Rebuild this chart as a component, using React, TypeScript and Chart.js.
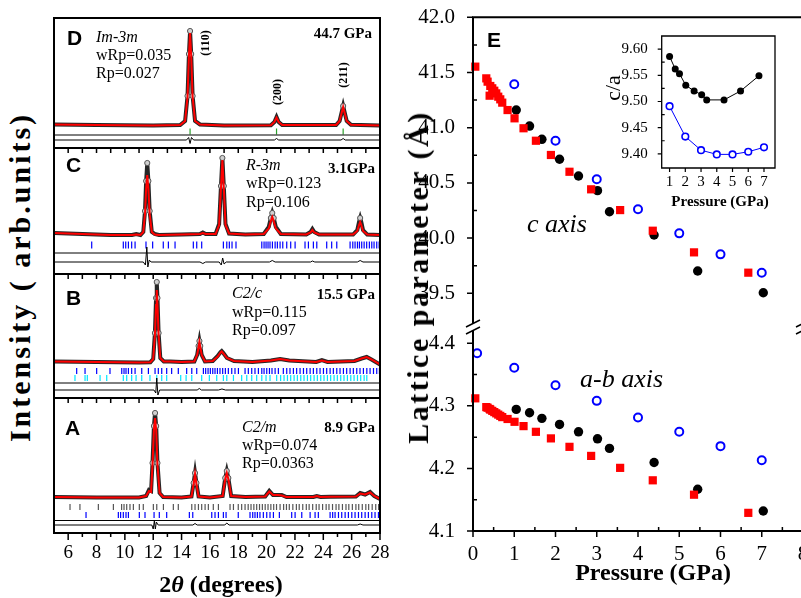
import React, { useEffect, useRef } from 'react';
import { Chart, registerables } from 'chart.js';

Chart.register(...registerables);

const SERIF = '"Liberation Serif", "Times New Roman", serif';
const SANS = '"Liberation Sans", Arial, sans-serif';

// ---------------- XRD patterns (2θ in degrees, intensity in arbitrary units) ----------------
const dTheta = [5, 8, 12, 13.9, 14.25, 14.42, 14.52, 14.6, 14.68, 14.78, 14.95, 15.3, 17, 20.3, 20.55, 20.7, 20.85, 21.1, 24.9, 25.15, 25.3, 25.4, 25.5, 25.65, 25.95, 28];
const dObs = [1.5, 1, 0.5, 1, 5, 30, 72, 95, 72, 30, 5, 1.5, 0.5, 0.8, 4, 9, 4, 1, 1, 5, 14, 20, 14, 5, 1.2, 0.5];
const dCalc = [1.5, 1, 0.5, 1, 5, 29, 70, 93, 70, 29, 5, 1.5, 0.5, 0.8, 4, 8.5, 4, 1, 1, 5, 13.5, 19, 13.5, 5, 1.2, 0.5];
const dResX = [5, 14.35, 14.5, 14.6, 14.7, 14.85, 20.55, 20.7, 20.85, 25.25, 25.4, 25.55, 28];
const dResY = [0, 0, 2.5, -3.5, 2.5, 0, 0, 1.5, 0, 0, 1.5, 0, 0];
const dTicksGreen = [14.6, 20.7, 25.4];

const cTheta = [5, 7, 9, 10.5, 10.8, 11.1, 11.3, 11.42, 11.5, 11.58, 11.66, 11.75, 11.9, 12.1, 12.4, 14, 15.3, 15.5, 15.7, 16.4, 16.65, 16.78, 16.88, 16.98, 17.1, 17.35, 18.5, 19.8, 20.15, 20.3, 20.4, 20.5, 20.65, 21.0, 22.8, 23.1, 23.23, 23.36, 23.7, 26.1, 26.4, 26.52, 26.6, 26.68, 26.8, 27.1, 28];
const cObs = [3, 2, 1, 1, 2, 1, 4, 25, 55, 73, 55, 25, 4, 2, 1, 1.5, 2, 3.5, 2, 2, 12, 50, 78, 50, 12, 2.5, 1.5, 2, 9, 18, 23, 18, 9, 2, 1.5, 4, 7, 4, 1.5, 1.5, 6, 14, 18, 14, 6, 1.5, 1];
const cCalc = [3, 2, 1, 1, 1.5, 1, 4, 22, 47, 61, 47, 22, 4, 1.5, 1, 1.5, 2, 3, 2, 2, 11, 48, 76, 48, 11, 2.5, 1.5, 2, 7.5, 15, 19, 15, 7.5, 2, 1.5, 3.5, 6, 3.5, 1.5, 1.5, 5, 11, 14, 11, 5, 1.5, 1];
const cResX = [5, 11.3, 11.45, 11.55, 11.62, 11.72, 11.85, 15.3, 15.5, 15.7, 16.65, 16.8, 16.9, 17.0, 17.15, 20.2, 20.4, 20.6, 23.1, 23.23, 23.4, 26.4, 26.6, 26.8, 28];
const cResY = [0, 0, -3, 15, -5, 2, 0, 0, -1.5, 0, 0, -3, 4, -2, 0, 0, 1.5, 0, 0, 1, 0, 0, 1.5, 0, 0];
const cTicksBlue = [7.66, 9.89, 10.06, 10.25, 10.48, 10.72, 11.49, 11.96, 12.71, 13.07, 13.54, 14.83, 15.07, 15.42, 16.95, 17.19, 17.37, 17.56, 17.84, 19.66, 19.82, 19.96, 20.10, 20.24, 20.41, 20.60, 20.76, 20.95, 21.14, 21.42, 21.70, 22.01, 22.71, 22.95, 23.30, 23.54, 24.24, 24.59, 24.95, 25.89, 26.08, 26.24, 26.41, 26.55, 26.71, 26.88, 27.06, 27.25, 27.42, 27.58, 27.77, 27.94];

const bTheta = [5, 8, 11, 11.8, 12.0, 12.12, 12.2, 12.25, 12.3, 12.38, 12.5, 12.75, 13.2, 14, 14.9, 15.1, 15.2, 15.26, 15.32, 15.42, 15.65, 16.2, 16.55, 16.75, 16.83, 16.95, 17.2, 17.7, 19, 20.3, 20.95, 21.6, 23.5, 23.9, 24.3, 26.2, 26.7, 27.06, 27.4, 28];
const bObs = [1.5, 1, 0.5, 0.8, 4, 30, 65, 81, 65, 30, 5, 1.5, 1.5, 1, 1.5, 8, 17, 22, 17, 8, 1.5, 2, 7, 11, 12, 10, 5, 2, 1, 2.5, 4, 2.5, 1, 3, 1, 2, 4.5, 6, 3.5, -1.5];
const bCalc = [1.5, 1, 0.5, 0.8, 4, 28, 58, 73, 58, 28, 5, 1.5, 1.5, 1, 1.5, 8, 16, 21, 16, 8, 1.5, 2, 6.5, 10.5, 11.5, 9.5, 5, 2, 1, 2.5, 4, 2.5, 1, 2.5, 1, 2, 4.5, 6, 3.5, -1.5];
const bResX = [5, 12.05, 12.18, 12.25, 12.33, 12.45, 15.1, 15.25, 15.4, 16.6, 16.85, 17.1, 28];
const bResY = [0, 0, -3, 12, -5, 0, 0, 1.5, 0, 0, 1, 0, 0];
const bTicksBlue = [6.6, 7.19, 8.01, 8.95, 9.78, 9.94, 10.08, 10.25, 10.48, 10.72, 11.19, 11.66, 12.13, 12.36, 12.6, 12.95, 13.3, 13.77, 14.36, 14.72, 15.07, 15.54, 15.7, 15.87, 16.03, 16.2, 16.36, 16.53, 16.71, 16.9, 17.09, 17.3, 17.54, 17.77, 18.01, 18.48, 18.71, 18.95, 19.18, 19.42, 19.66, 19.82, 20.01, 20.2, 20.38, 20.6, 20.83, 21.18, 21.42, 21.65, 21.89, 22.12, 22.36, 22.6, 22.83, 23.07, 23.3, 23.54, 23.77, 24.01, 24.24, 24.48, 24.71, 24.95, 25.18, 25.42, 25.65, 25.89, 26.12, 26.36, 26.59, 26.83, 27.07, 27.3, 27.54, 27.77, 27.96];
const bTicksCyan = [6.48, 7.19, 7.35, 8.25, 8.72, 9.89, 10.13, 10.48, 10.79, 11.19, 11.77, 12.25, 12.6, 12.95, 13.94, 14.32, 14.72, 15.42, 15.96, 16.48, 16.95, 17.19, 17.66, 18.24, 18.6, 18.95, 19.3, 19.66, 19.96, 20.24, 20.71, 20.99, 21.23, 21.47, 21.7, 21.94, 22.17, 22.41, 22.64, 22.88, 23.11, 23.35, 23.58, 23.82, 24.05, 24.29, 24.52, 24.76, 24.99, 25.23, 25.46, 25.7, 25.94, 26.17, 26.41, 26.64, 26.88, 27.07];

const aTheta = [5, 8, 11, 11.5, 11.7, 11.85, 11.95, 12.05, 12.13, 12.21, 12.3, 12.45, 12.7, 14.0, 14.7, 14.85, 14.95, 15.05, 15.2, 16.0, 16.9, 17.08, 17.19, 17.3, 17.5, 18.5, 19.9, 20.19, 20.45, 20.8, 21.07, 21.4, 23.3, 23.54, 23.8, 24.5, 26.3, 26.6, 26.95, 27.3, 27.6, 28];
const aObs = [1, 0.5, 0.5, 2, 8, 7, 35, 72, 85, 72, 35, 5, 1, 0.5, 1.5, 15, 25, 15, 1.5, 0.5, 2, 20, 27, 20, 2, 1, 1.5, 7, 3, 3, 3, 1, 1, 2, 1, 1.2, 1.5, 5, 3.5, 6, 2, -1];
const aCalc = [1, 0.5, 0.5, 2, 7, 6, 33, 68, 80, 68, 33, 5, 1, 0.5, 1.5, 14, 24, 14, 1.5, 0.5, 2, 19, 25, 19, 2, 1, 1.5, 6.5, 3, 3, 2.5, 1, 1, 2, 1, 1.2, 1.5, 4.5, 3.5, 5.5, 2, -1];
const aResX = [5, 11.9, 12.0, 12.08, 12.15, 12.22, 12.35, 14.8, 14.95, 15.1, 17.05, 17.19, 17.35, 26.4, 26.6, 26.8, 28];
const aResY = [0, 0, -4, 4, -4, 3, 0, 0, 1.5, 0, 0, 2, 0, 0, 1, 0, 0];
const aTicksGray = [6.13, 6.83, 8.13, 9.19, 9.77, 9.94, 10.13, 10.36, 10.6, 11.02, 11.3, 12.01, 12.25, 12.72, 13.42, 13.77, 14.72, 14.95, 15.19, 15.42, 15.66, 15.89, 16.24, 16.6, 17.42, 17.66, 18.0, 18.24, 18.48, 18.7, 18.9, 19.1, 19.3, 19.5, 19.7, 19.9, 20.1, 20.3, 20.5, 20.7, 20.95, 21.2, 21.4, 21.6, 21.85, 22.1, 22.3, 22.55, 22.8, 23.0, 23.25, 23.5, 23.7, 23.95, 24.2, 24.4, 24.65, 24.9, 25.1, 25.35, 25.6, 25.8, 26.05, 26.3, 26.5, 26.75, 27.0, 27.2, 27.45, 27.7, 27.9];
const aTicksBlue = [7.26, 9.54, 9.7, 9.89, 10.08, 10.25, 11.02, 11.42, 12.06, 12.43, 12.95, 14.55, 14.79, 16.13, 16.36, 16.6, 16.95, 17.14, 18.0, 18.83, 19.02, 19.18, 19.35, 19.53, 19.77, 20.01, 20.24, 20.48, 20.9, 21.77, 22.01, 22.48, 23.07, 23.42, 23.65, 24.48, 24.66, 24.83, 25.07, 25.3, 25.54, 25.77, 26.01, 26.24, 26.48, 26.71, 26.95, 27.18, 27.42, 27.65, 27.89];

const xrdLabelTicks = [6, 8, 10, 12, 14, 16, 18, 20, 22, 24, 26, 28];
const xrdMinorTicks = [7, 9, 11, 13, 15, 17, 19, 21, 23, 25, 27];

// ---------------- Lattice parameters vs pressure ----------------
const redP = [0.056, 0.322, 0.354, 0.403, 0.419, 0.467, 0.516, 0.564, 0.612, 0.661, 0.709, 0.838, 1.007, 1.225, 1.525, 1.889, 2.339, 2.864, 3.567, 4.358, 5.358, 6.674];
const redC = [41.553, 41.447, 41.417, 41.290, 41.378, 41.357, 41.335, 41.311, 41.281, 41.257, 41.227, 41.160, 41.085, 40.995, 40.882, 40.753, 40.601, 40.442, 40.254, 40.067, 39.871, 39.687];
const redA = [4.312, 4.298, 4.297, 4.295, 4.294, 4.292, 4.290, 4.288, 4.286, 4.284, 4.282, 4.279, 4.2745, 4.2676, 4.2585, 4.248, 4.2345, 4.220, 4.2009, 4.181, 4.158, 4.129];

const blackP = [1.048, 1.371, 1.670, 2.098, 2.558, 3.018, 3.309, 4.39, 5.447, 7.037];
const blackC = [41.160, 41.015, 40.895, 40.714, 40.563, 40.430, 40.239, 40.028, 39.702, 39.505];
const blackA = [4.2943, 4.289, 4.280, 4.2703, 4.2585, 4.2473, 4.232, 4.2095, 4.1668, 4.132];

const blueCP = [1, 2, 3, 4, 5, 6, 7];
const blueC = [41.393, 40.882, 40.533, 40.261, 40.043, 39.853, 39.687];
const blueAP = [0.1, 1, 2, 3, 4, 5, 6, 7];
const blueA = [4.384, 4.361, 4.333, 4.308, 4.2815, 4.2585, 4.2356, 4.2132];

const cAxisTicks = [39.5, 40.0, 40.5, 41.0, 41.5, 42.0];
const cAxisMinor = [39.75, 40.25, 40.75, 41.25, 41.75];
const aAxisTicks = [4.1, 4.2, 4.3, 4.4];
const aAxisMinor = [4.15, 4.25, 4.35];
const pTicks = [0, 1, 2, 3, 4, 5, 6, 7, 8];
const pMinor = [0.5, 1.5, 2.5, 3.5, 4.5, 5.5, 6.5, 7.5];

// inset: c/a ratio
const insetBlackP = [1.0, 1.36, 1.63, 2.03, 2.56, 3.04, 3.36, 4.46, 5.51, 6.68];
const insetBlackR = [9.586, 9.562, 9.553, 9.531, 9.520, 9.513, 9.503, 9.503, 9.520, 9.549];
const insetBlueP = [1, 2, 3, 4, 5, 6, 7];
const insetBlueR = [9.491, 9.433, 9.407, 9.399, 9.399, 9.404, 9.4125];
const insetPTicks = [1, 2, 3, 4, 5, 6, 7];
const insetRTicks = [9.40, 9.45, 9.50, 9.55, 9.60];
const insetRMinor = [9.425, 9.475, 9.525, 9.575];

// ---------------- helpers ----------------
const zip = (xs: number[], ys: number[]) => xs.map((x, i) => ({ x, y: ys[i] }));

const fixY = (w: number) => (s: any) => { s.width = w; s.paddingTop = 0; s.paddingBottom = 0; };
const fixX = (h: number) => (s: any) => { s.height = h; s.paddingLeft = 0; s.paddingRight = 0; };

const axesPlugin: any = {
  id: 'axes',
  beforeDraw(chart: any, _a: any, o: any) {
    if (o && o.fill) {
      const a = chart.chartArea;
      chart.ctx.save();
      chart.ctx.fillStyle = o.fill;
      chart.ctx.fillRect(a.left, a.top, a.right - a.left, a.bottom - a.top);
      chart.ctx.restore();
    }
  },
  afterDatasetsDraw(chart: any, _a: any, o: any) {
    if (!o) return;
    const { ctx, chartArea: a } = chart;
    ctx.save();
    ctx.strokeStyle = '#000';
    for (const h of o.hlines || []) {
      const py = chart.scales.y.getPixelForValue(h.value);
      ctx.lineWidth = h.width || 1;
      ctx.beginPath();
      ctx.moveTo(a.left, py);
      ctx.lineTo(a.right, py);
      ctx.stroke();
    }
    for (const t of o.ticks || []) {
      const s = chart.scales[t.scale];
      ctx.lineWidth = t.width || 1.5;
      ctx.beginPath();
      const edge = t.side === 'left' ? a.left : t.side === 'right' ? a.right : t.side === 'top' ? a.top : a.bottom;
      const outward = t.side === 'left' || t.side === 'top' ? -1 : 1;
      const d = t.dir === 'out' ? outward : -outward;
      for (const v of t.values) {
        const p = s.getPixelForValue(v);
        if (t.side === 'left' || t.side === 'right') {
          ctx.moveTo(edge, p);
          ctx.lineTo(edge + d * t.len, p);
        } else {
          ctx.moveTo(p, edge);
          ctx.lineTo(p, edge + d * t.len);
        }
      }
      ctx.stroke();
    }
    for (const l of o.labels || []) {
      const s = chart.scales[l.scale];
      ctx.fillStyle = '#000';
      ctx.font = l.font;
      ctx.textAlign = 'center';
      ctx.textBaseline = 'top';
      for (const v of l.values) ctx.fillText(String(v), s.getPixelForValue(v), a.bottom + l.offset);
    }
    const sides: string = o.sides || 'ltrb';
    ctx.lineWidth = o.lw || 2;
    ctx.lineCap = 'square';
    ctx.beginPath();
    if (sides.includes('l')) { ctx.moveTo(a.left, a.top); ctx.lineTo(a.left, a.bottom); }
    if (sides.includes('r')) { ctx.moveTo(a.right, a.top); ctx.lineTo(a.right, a.bottom); }
    if (sides.includes('t')) { ctx.moveTo(a.left, a.top); ctx.lineTo(a.right, a.top); }
    if (sides.includes('b')) { ctx.moveTo(a.left, a.bottom); ctx.lineTo(a.right, a.bottom); }
    ctx.stroke();
    if (o.breaks) {
      for (const bx of [a.left, a.right]) {
        const by = a.top;
        ctx.fillStyle = '#fff';
        ctx.fillRect(bx - 3, by - 3.5, 6, 7);
        ctx.lineWidth = 1.5;
        ctx.lineCap = 'butt';
        ctx.beginPath();
        ctx.moveTo(bx - 7, by);
        ctx.lineTo(bx + 7, by - 7);
        ctx.moveTo(bx - 7, by + 7);
        ctx.lineTo(bx + 7, by);
        ctx.stroke();
      }
    }
    ctx.restore();
  },
};

interface Row { pos: number[]; color: string; at: number; len: number }
interface Panel {
  theta: number[]; obs: number[]; calc: number[]; resX: number[]; resY: number[];
  base: number; top: number; bottom: number; rows: Row[]; sep: number; res: number;
  topTicks: boolean; bottomAxis: boolean;
}

function xrdConfig(p: Panel) {
  const v = (px: number) => p.base - px;
  const datasets: any[] = [
    { data: zip(p.theta, p.calc), borderColor: '#ff0000', borderWidth: 2, pointRadius: 0, order: 0 },
    {
      data: zip(p.theta, p.obs), borderColor: '#262626', borderWidth: 4, order: 1,
      pointRadius: (c: any) => (c.raw && c.raw.y >= 15 ? 2.6 : 0),
      pointBackgroundColor: '#d0d0d0', pointBorderColor: '#555', pointBorderWidth: 1,
    },
    { data: p.resX.map((x, i) => ({ x, y: v(p.res) + p.resY[i] })), borderColor: '#000', borderWidth: 1, pointRadius: 0, order: 2 },
    ...p.rows.map((r) => ({
      data: r.pos.map((x) => ({ x, y: v(r.at) })), showLine: false, pointStyle: 'line', rotation: 90,
      pointRadius: r.len / 2, pointBorderColor: r.color, pointBorderWidth: 1.2, order: 3,
    })),
  ];
  const ticks: any[] = [];
  if (p.topTicks) ticks.push({ scale: 'x', values: [...xrdLabelTicks, ...xrdMinorTicks], len: 5, side: 'top', dir: 'in' });
  if (p.bottomAxis) {
    ticks.push({ scale: 'x', values: xrdLabelTicks, len: 7, side: 'bottom', dir: 'out' });
    ticks.push({ scale: 'x', values: xrdMinorTicks, len: 4, side: 'bottom', dir: 'out' });
  }
  const xScale: any = { type: 'linear', min: 5, max: 28, display: p.bottomAxis };
  if (p.bottomAxis) {
    Object.assign(xScale, {
      grid: { display: false }, border: { display: false },
      afterBuildTicks: (s: any) => { s.ticks = xrdLabelTicks.map((value) => ({ value })); },
      afterFit: fixX(35),
      ticks: { font: { family: SERIF, size: 19 }, color: '#000', padding: 1, maxRotation: 0, autoSkip: false },
    });
  }
  return {
    type: 'line',
    data: { datasets },
    options: {
      animation: false, responsive: false, maintainAspectRatio: false, events: [],
      layout: { padding: { left: 10, right: 10, top: 10, bottom: p.bottomAxis ? 0 : 10 } },
      scales: {
        x: xScale,
        y: { type: 'linear', min: -(p.bottom - p.base), max: p.base - p.top, display: false },
      },
      plugins: {
        legend: { display: false }, tooltip: { enabled: false },
        axes: { sides: 'ltrb', lw: 2, ticks, hlines: [{ value: v(p.sep), width: 1 }] },
      },
    },
    plugins: [axesPlugin],
  };
}

const panelD: Panel = {
  theta: dTheta, obs: dObs, calc: dCalc, resX: dResX, resY: dResY, base: 126, top: 18, bottom: 148,
  rows: [{ pos: dTicksGreen, color: '#2ca02c', at: 131.5, len: 6 }], sep: 135, res: 140, topTicks: false, bottomAxis: false,
};
const panelC: Panel = {
  theta: cTheta, obs: cObs, calc: cCalc, resX: cResX, resY: cResY, base: 236, top: 148, bottom: 274,
  rows: [{ pos: cTicksBlue, color: '#0000ff', at: 245, len: 7 }], sep: 253, res: 262, topTicks: true, bottomAxis: false,
};
const panelB: Panel = {
  theta: bTheta, obs: bObs, calc: bCalc, resX: bResX, resY: bResY, base: 363, top: 274, bottom: 398,
  rows: [
    { pos: bTicksBlue, color: '#0000ff', at: 371, len: 6 },
    { pos: bTicksCyan, color: '#00e5ff', at: 378, len: 6 },
  ], sep: 383, res: 390, topTicks: true, bottomAxis: false,
};
const panelA: Panel = {
  theta: aTheta, obs: aObs, calc: aCalc, resX: aResX, resY: aResY, base: 498, top: 398, bottom: 533,
  rows: [
    { pos: aTicksGray, color: '#555555', at: 507, len: 6 },
    { pos: aTicksBlue, color: '#0000ff', at: 515, len: 6 },
  ], sep: 520.5, res: 525, topTicks: true, bottomAxis: true,
};

const pointSets = (ys: { red: number[]; black: number[]; blue: number[]; blueP: number[] }) => [
  { data: zip(redP, ys.red), showLine: false, pointStyle: 'rect', pointRadius: 5.8, pointBackgroundColor: '#ff0000', pointBorderColor: '#ff0000', pointBorderWidth: 0, clip: false, order: 0 },
  { data: zip(blackP, ys.black), showLine: false, pointStyle: 'circle', pointRadius: 4.7, pointBackgroundColor: '#000', pointBorderColor: '#000', pointBorderWidth: 0, clip: false, order: 1 },
  { data: zip(ys.blueP, ys.blue), showLine: false, pointStyle: 'circle', pointRadius: 4, pointBackgroundColor: 'rgba(255,255,255,0)', pointBorderColor: '#0000ff', pointBorderWidth: 2, clip: false, order: 2 },
];

const tickFont = { family: SERIF, size: 21 };

function upperConfig() {
  return {
    type: 'line',
    data: { datasets: pointSets({ red: redC, black: blackC, blue: blueC, blueP: blueCP }) },
    options: {
      animation: false, responsive: false, maintainAspectRatio: false, events: [],
      layout: { padding: { left: 13, right: 10, top: 10.3, bottom: 10 } },
      scales: {
        x: { type: 'linear', min: 0, max: 8, display: false },
        y: {
          type: 'linear', min: 39.195, max: 42.0,
          afterFit: fixY(60),
          afterBuildTicks: (s: any) => { s.ticks = cAxisTicks.map((value) => ({ value })); },
          grid: { display: false }, border: { display: false },
          ticks: { font: tickFont, color: '#000', padding: 10, callback: (val: any) => Number(val).toFixed(1) },
        },
      },
      plugins: {
        legend: { display: false }, tooltip: { enabled: false },
        axes: {
          sides: 'lt', lw: 2,
          ticks: [
            { scale: 'y', values: cAxisTicks, len: 6, side: 'left', dir: 'out' },
            { scale: 'y', values: cAxisMinor, len: 4, side: 'left', dir: 'in' },
          ],
        },
      },
    },
    plugins: [axesPlugin],
  };
}

function lowerConfig() {
  return {
    type: 'line',
    data: { datasets: pointSets({ red: redA, black: blackA, blue: blueA, blueP: blueAP }) },
    options: {
      animation: false, responsive: false, maintainAspectRatio: false, events: [],
      layout: { padding: { left: 13, right: 10, top: 10, bottom: 0 } },
      scales: {
        x: {
          type: 'linear', min: 0, max: 8,
          afterFit: fixX(45),
          afterBuildTicks: (s: any) => { s.ticks = pTicks.map((value) => ({ value })); },
          grid: { display: false }, border: { display: false },
          ticks: { font: tickFont, color: '#000', padding: 3, maxRotation: 0, autoSkip: false },
        },
        y: {
          type: 'linear', min: 4.1, max: 4.426,
          afterFit: fixY(60),
          afterBuildTicks: (s: any) => { s.ticks = aAxisTicks.map((value) => ({ value })); },
          grid: { display: false }, border: { display: false },
          ticks: { font: tickFont, color: '#000', padding: 10, callback: (val: any) => Number(val).toFixed(1) },
        },
      },
      plugins: {
        legend: { display: false }, tooltip: { enabled: false },
        axes: {
          sides: 'lb', lw: 2, breaks: true,
          ticks: [
            { scale: 'y', values: aAxisTicks, len: 6, side: 'left', dir: 'out' },
            { scale: 'y', values: aAxisMinor, len: 4, side: 'left', dir: 'in' },
            { scale: 'x', values: pTicks, len: 6, side: 'bottom', dir: 'out' },
            { scale: 'x', values: pMinor, len: 4, side: 'bottom', dir: 'in' },
          ],
        },
      },
    },
    plugins: [axesPlugin],
  };
}

function insetConfig() {
  return {
    type: 'line',
    data: {
      datasets: [
        { data: zip(insetBlackP, insetBlackR), borderColor: '#000', borderWidth: 1, pointRadius: 3.5, pointBackgroundColor: '#000', pointBorderColor: '#000', pointBorderWidth: 0, order: 0 },
        { data: zip(insetBlueP, insetBlueR), borderColor: '#0000ff', borderWidth: 1, pointRadius: 3.3, pointBackgroundColor: '#fff', pointBorderColor: '#0000ff', pointBorderWidth: 1.6, order: 1 },
      ],
    },
    options: {
      animation: false, responsive: false, maintainAspectRatio: false, events: [],
      layout: { padding: { left: 5, right: 10, top: 10, bottom: 25 } },
      scales: {
        x: { type: 'linear', min: 0.5, max: 7.7, display: false },
        y: {
          type: 'linear', min: 9.373, max: 9.625,
          afterFit: fixY(56.7),
          afterBuildTicks: (s: any) => { s.ticks = insetRTicks.map((value) => ({ value })); },
          grid: { display: false }, border: { display: false },
          ticks: { font: { family: SERIF, size: 15 }, color: '#000', padding: 6, callback: (val: any) => Number(val).toFixed(2) },
        },
      },
      plugins: {
        legend: { display: false }, tooltip: { enabled: false },
        axes: {
          fill: '#fff', sides: 'ltrb', lw: 1.3,
          ticks: [
            { scale: 'y', values: insetRTicks, len: 4, side: 'left', dir: 'out', width: 1.2 },
            { scale: 'y', values: insetRMinor, len: 3, side: 'left', dir: 'in', width: 1.2 },
            { scale: 'x', values: insetPTicks, len: 4, side: 'bottom', dir: 'out', width: 1.2 },
          ],
          labels: [{ scale: 'x', values: insetPTicks, offset: 7, font: `15px ${SERIF}` }],
        },
      },
    },
    plugins: [axesPlugin],
  };
}

// ---------------- components ----------------
function ChartCanvas({ left, top, width, height, build }: { left: number; top: number; width: number; height: number; build: () => any }) {
  const ref = useRef<HTMLCanvasElement>(null);
  useEffect(() => {
    const chart = new Chart(ref.current as HTMLCanvasElement, build());
    return () => chart.destroy();
  }, []);
  return <canvas ref={ref} width={width} height={height} style={{ position: 'absolute', left, top, width, height }} />;
}

function Txt({ x, y, size, children, weight = 'normal', italic = false, family = SERIF, anchor = 'start' }: any) {
  const style: any = {
    position: 'absolute', top: y - 0.84 * size, whiteSpace: 'nowrap', lineHeight: 1, color: '#000',
    fontFamily: family, fontSize: size, fontWeight: weight, fontStyle: italic ? 'italic' : 'normal',
  };
  if (anchor === 'end') style.right = 801 - x;
  else if (anchor === 'middle') { style.left = x; style.transform = 'translateX(-50%)'; }
  else style.left = x;
  return <div style={style}>{children}</div>;
}

function VTxt({ cx, cy, size, children, weight = 'normal', family = SERIF, spacing = 0 }: any) {
  return (
    <div style={{
      position: 'absolute', left: cx, top: cy, transform: 'translate(-50%,-50%) rotate(-90deg)',
      whiteSpace: 'nowrap', lineHeight: 1, fontFamily: family, fontSize: size, fontWeight: weight, color: '#000',
      letterSpacing: spacing,
    }}>{children}</div>
  );
}

export default function App() {
  return (
    <div style={{ position: 'fixed', left: 0, top: 0, width: 801, height: 598, overflow: 'hidden', background: '#fff' }}>
      <ChartCanvas left={44} top={8} width={346} height={150} build={() => xrdConfig(panelD)} />
      <ChartCanvas left={44} top={138} width={346} height={146} build={() => xrdConfig(panelC)} />
      <ChartCanvas left={44} top={264} width={346} height={144} build={() => xrdConfig(panelB)} />
      <ChartCanvas left={44} top={388} width={346} height={180} build={() => xrdConfig(panelA)} />

      <ChartCanvas left={400} top={7} width={413} height={330} build={upperConfig} />
      <ChartCanvas left={400} top={317} width={413} height={259} build={lowerConfig} />
      <ChartCanvas left={600} top={26} width={185} height={167} build={insetConfig} />

      {/* left panels text */}
      <Txt x={67} y={45} size={21} weight="bold" family={SANS}>D</Txt>
      <Txt x={96} y={42.5} size={16} italic>Im-3m</Txt>
      <Txt x={96} y={60.5} size={16}>wRp=0.035</Txt>
      <Txt x={96} y={78.5} size={16}>Rp=0.027</Txt>
      <Txt x={372} y={39} size={15} weight="bold" anchor="end">44.7 GPa</Txt>
      <VTxt cx={205} cy={43} size={12} weight="bold">(110)</VTxt>
      <VTxt cx={277} cy={92} size={12} weight="bold">(200)</VTxt>
      <VTxt cx={343} cy={75} size={12} weight="bold">(211)</VTxt>

      <Txt x={66} y={172} size={21} weight="bold" family={SANS}>C</Txt>
      <Txt x={246} y={170.5} size={16} italic>R-3m</Txt>
      <Txt x={246} y={188.5} size={16}>wRp=0.123</Txt>
      <Txt x={246} y={207} size={16}>Rp=0.106</Txt>
      <Txt x={375} y={173.5} size={15} weight="bold" anchor="end">3.1GPa</Txt>

      <Txt x={66} y={305} size={21} weight="bold" family={SANS}>B</Txt>
      <Txt x={232} y={298.5} size={16} italic>C2/c</Txt>
      <Txt x={232} y={317} size={16}>wRp=0.115</Txt>
      <Txt x={232} y={335.5} size={16}>Rp=0.097</Txt>
      <Txt x={375} y={300} size={15} weight="bold" anchor="end">15.5 GPa</Txt>

      <Txt x={65} y={435} size={21} weight="bold" family={SANS}>A</Txt>
      <Txt x={242} y={432.5} size={16} italic>C2/m</Txt>
      <Txt x={242} y={450.5} size={16}>wRp=0.074</Txt>
      <Txt x={242} y={468.5} size={16}>Rp=0.0363</Txt>
      <Txt x={375} y={432.5} size={15} weight="bold" anchor="end">8.9 GPa</Txt>

      <Txt x={221} y={592} size={24} weight="bold" anchor="middle">2<i>θ</i> (degrees)</Txt>
      <VTxt cx={20} cy={277} size={30} weight="bold" spacing={3}>Intensity ( arb.units)</VTxt>

      {/* right panel text */}
      <Txt x={487} y={47} size={21} weight="bold" family={SANS}>E</Txt>
      <Txt x={527} y={233} size={26} italic>c axis</Txt>
      <Txt x={580} y={388} size={26} italic>a-b axis</Txt>
      <Txt x={653} y={580} size={24} weight="bold" anchor="middle">Pressure (GPa)</Txt>
      <VTxt cx={418} cy={277} size={30} weight="bold" spacing={2.5}>Lattice parameter (Å)</VTxt>
      <Txt x={720} y={207} size={15} weight="bold" anchor="middle">Pressure (GPa)</Txt>
      <VTxt cx={613} cy={88} size={22}>c/a</VTxt>
    </div>
  );
}
